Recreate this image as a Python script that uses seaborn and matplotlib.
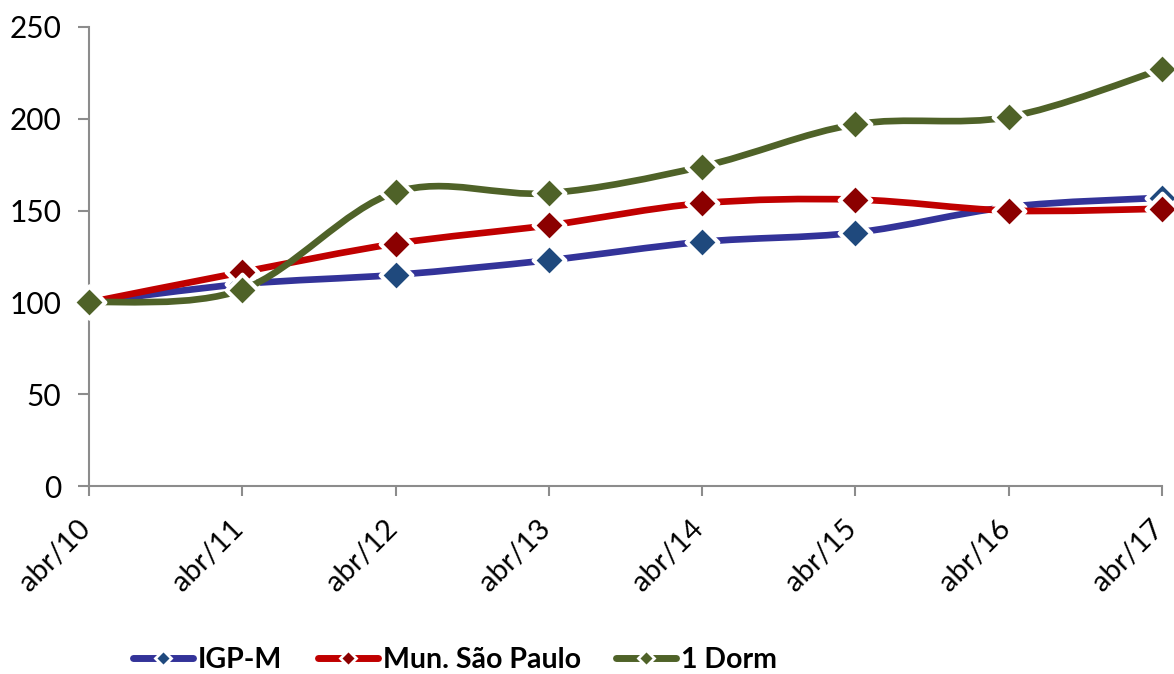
import numpy as np
import pandas as pd
import matplotlib
matplotlib.use("Agg")
import matplotlib.pyplot as plt
from matplotlib.path import Path
from matplotlib.patches import PathPatch
from matplotlib.lines import Line2D
from matplotlib.transforms import ScaledTranslation
import seaborn as sns

# --- data ---
periods = ["abr/10", "abr/11", "abr/12", "abr/13", "abr/14", "abr/15", "abr/16", "abr/17"]
igpm = [100, 110, 115, 123, 133, 138, 152, 157]
mun_sp = [100, 116.5, 132, 142, 154, 156, 150, 151]
um_dorm = [100, 107, 160, 159.5, 174, 197, 201, 227]

series_names = ["IGP-M", "Mun. São Paulo", "1 Dorm"]
line_colors = ["#333399", "#C00000", "#4F6228"]
marker_colors = ["#1F497D", "#8B0000", "#4F6228"]


def smooth_path(xs, ys):
    """Excel-like smoothed line: cubic Bezier through every point."""
    n = len(xs)
    verts = [(xs[0], ys[0])]
    codes = [Path.MOVETO]
    for i in range(n - 1):
        a = i - 1 if i > 0 else i
        b = i + 2 if i + 2 < n else i + 1
        c1 = (xs[i] + (xs[i + 1] - xs[a]) / 6, ys[i] + (ys[i + 1] - ys[a]) / 6)
        c2 = (xs[i + 1] - (xs[b] - xs[i]) / 6, ys[i + 1] - (ys[b] - ys[i]) / 6)
        verts += [c1, c2, (xs[i + 1], ys[i + 1])]
        codes += [Path.CURVE4] * 3
    return Path(verts, codes)


df = pd.DataFrame({"periodo": periods, "IGP-M": igpm,
                   "Mun. São Paulo": mun_sp, "1 Dorm": um_dorm})
df["x"] = np.arange(len(periods))
long_df = df.melt(id_vars=["periodo", "x"], var_name="serie", value_name="valor")

sns.set_style("white")
plt.rcParams["font.family"] = ["Lato", "DejaVu Sans"]
plt.rcParams["text.color"] = "black"

fig = plt.figure(figsize=(11.74, 6.74), dpi=100)
ax = fig.add_axes([89 / 1174, 1 - 486 / 674, (1162 - 89) / 1174, (486 - 27) / 674])

for k, name in enumerate(series_names):
    sub = long_df[long_df["serie"] == name]
    patch = PathPatch(smooth_path(sub["x"].to_numpy(float), sub["valor"].to_numpy(float)),
                      facecolor="none", edgecolor=line_colors[k], lw=4.8,
                      capstyle="round", zorder=2 + 2 * k)
    ax.add_patch(patch)
    sns.scatterplot(data=sub, x="x", y="valor", ax=ax, marker="D", s=260,
                    color=marker_colors[k], edgecolor="white", linewidth=3,
                    zorder=3 + 2 * k, clip_on=False, legend=False)

ax.set_xlim(0, len(periods) - 1)
ax.set_ylim(0, 250)
ax.set_yticks(range(0, 251, 50))
ax.set_xticks(df["x"])
ax.set_xticklabels(periods, rotation=45, ha="right", va="baseline",
                   rotation_mode="anchor")
ax.set_xlabel("")
ax.set_ylabel("")

for side in ["top", "right"]:
    ax.spines[side].set_visible(False)
for side in ["left", "bottom"]:
    ax.spines[side].set_color("#8C8C8C")
    ax.spines[side].set_linewidth(1.5)

ax.tick_params(axis="y", which="major", direction="out", length=8, width=1.5,
               color="#8C8C8C", labelcolor="black", labelsize=21.5, pad=12, left=True)
ax.tick_params(axis="x", which="major", direction="out", length=7, width=1.5,
               color="#8C8C8C", labelcolor="black", labelsize=21, pad=25, bottom=True)

# nudge the rotated labels a little to the right, like the reference
shift = ScaledTranslation(3 / 100, 0, fig.dpi_scale_trans)
for lbl in ax.get_xticklabels():
    lbl.set_transform(lbl.get_transform() + shift)

handles = [Line2D([0], [0], color=line_colors[k], lw=5, marker="D", markersize=8,
                  markerfacecolor=marker_colors[k], markeredgecolor="white",
                  markeredgewidth=2)
           for k in range(3)]
fig.legend(handles, series_names, loc="center left", bbox_to_anchor=(133 / 1174, 1 - 660 / 674),
           ncol=3, frameon=False, borderpad=0, borderaxespad=0,
           handlelength=2.1, handletextpad=0.18, columnspacing=1.25,
           prop={"weight": "bold", "size": 20.5})

fig.savefig("out.png", dpi=100)
